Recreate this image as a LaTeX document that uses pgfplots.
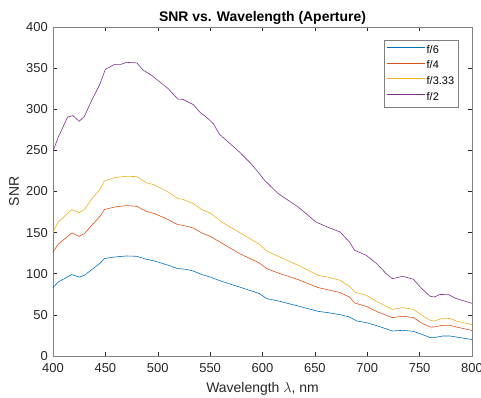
\documentclass[border=0pt]{standalone}
\usepackage{fontspec}
\setmainfont{Liberation Sans}
\usepackage{pgfplots}
\pgfplotsset{compat=1.18}
\definecolor{mblue}{rgb}{0,0.447,0.741}
\definecolor{mred}{rgb}{0.85,0.325,0.098}
\definecolor{myellow}{rgb}{0.929,0.694,0.125}
\definecolor{mpurple}{rgb}{0.494,0.184,0.556}
\definecolor{axgray}{rgb}{0.15,0.15,0.15}
\definecolor{framegray}{rgb}{0.5,0.5,0.5}
\begin{document}
\begin{tikzpicture}
\begin{axis}[
  at={(0,0)}, anchor=south west,
  scale only axis, width=419bp, height=329bp,
  xmin=400, xmax=800, ymin=0, ymax=400,
  xtick={400,450,...,800}, ytick={0,50,...,400},
  tick align=inside, major tick length=4bp,
  axis line style={framegray, line width=0.6bp},
  tick style={axgray, line width=0.5bp},
  ticklabel style={font=\fontsize{13}{15}\selectfont, text=axgray},
  /pgf/number format/assume math mode=true,
  /pgf/number format/1000 sep={},
  xticklabel style={yshift=-3.5bp},
  yticklabel style={xshift=-1.7bp},
  title={SNR vs. Wavelength (Aperture)},
  title style={font=\fontsize{14}{16}\selectfont\bfseries, at={(axis description cs:0.5,1)}, anchor=base, yshift=-0.3bp},
  xlabel={Wavelength $\lambda$, nm},
  ylabel={SNR},
  xlabel style={font=\fontsize{14}{16}\selectfont, text=axgray, at={(axis description cs:0.5,0)}, anchor=base, yshift=-36bp},
  ylabel style={font=\fontsize{14}{16}\selectfont, text=axgray, at={(axis description cs:-0.093,0.5)}, anchor=center},
  legend style={at={(axis description cs:1,1)}, anchor=north east, xshift=-13.7bp, yshift=-13.5bp,
    font=\fontsize{11}{13}\selectfont, draw=framegray, inner xsep=2.5bp, inner ysep=2bp,
    row sep=0bp, nodes={inner xsep=1.5bp, inner ysep=2.6bp, text height=8bp, text depth=2.5bp}},
  legend cell align=left,
  legend image code/.code={\draw[#1, line width=0.9bp] (0bp,3bp) -- (38bp,3bp);},
]
\addplot[color=mblue, line width=0.6bp] coordinates {
(400,83.2) (405,90) (418,99) (425,96) (430,98.1) (437,105) (445,113) (449,118.4)
(459,120.4) (470,121.6) (480,121.2) (489,117.6) (497,115.5) (510,110.3) (519,106.3)
(527,105.4) (534,103.3) (542,99) (550,96) (561,90.8) (578,83.9) (597,75.9) (604,69.8)
(615,66.9) (634,60.8) (653,54.3) (662,52.8) (674,50.3) (683,47.4) (690,42.6) (699,40.6)
(710,36.5) (724,30.4) (734,31.2) (744,30) (752,26.4) (760,22.4) (764,22.4) (772,24.3)
(779,24.3) (785,23.1) (800,20)
};
\addlegendentry{f/6}
\addplot[color=mred, line width=0.6bp] coordinates {
(400,126.4) (405,136) (418,149.6) (425,145.5) (430,148.8) (437,159) (445,170) (449,178)
(459,181.2) (470,182.9) (480,182) (489,175.9) (497,173.1) (510,165.8) (519,159.8)
(524,158.9) (534,155.6) (542,149.6) (550,145.5) (561,137.4) (578,124.5) (597,113.1)
(604,106.3) (615,100.9) (634,92.9) (653,83.2) (662,80.7) (674,77.1) (683,71.7) (688,64.4)
(699,60.4) (710,53.5) (724,46.7) (734,48.3) (744,46.7) (752,40.1) (760,35.3) (764,35.3)
(772,37.3) (779,37.3) (785,35.3) (800,31)
};
\addlegendentry{f/4}
\addplot[color=myellow, line width=0.6bp] coordinates {
(400,151) (405,163) (418,178) (425,174.3) (430,178) (437,191) (445,203) (449,212.8)
(459,216.9) (470,218.5) (480,218.1) (489,210.8) (496,208.4) (510,199.4) (519,191.4)
(524,190.5) (534,185.3) (542,178) (550,173.9) (561,163) (578,150.2) (597,135.8)
(604,127.7) (615,121.2) (634,110.3) (653,98.1) (662,96) (674,92) (683,84.7) (688,77.8)
(699,73.8) (710,65.7) (724,56.8) (734,58.8) (744,56.8) (752,49.5) (760,43.4) (764,42.6)
(772,45.8) (779,45.6) (785,42.6) (800,38)
};
\addlegendentry{f/3.33}
\addplot[color=mpurple, line width=0.6bp] coordinates {
(400,249) (405,266) (414,290.6) (419,292.3) (425,285.3) (430,291.4) (437,310.9) (445,331.2)
(450,348.6) (459,354.6) (465,354.6) (470,357) (480,356.4) (486,347.6) (494,341.3) (510,325)
(519,312.5) (524,312) (534,305.6) (540,296.7) (548,288.6) (553,282.5) (559,269.5)
(578,248) (589,233.9) (597,221.7) (602,213.6) (615,197.4) (634,181.2) (651,162.9)
(662,156.8) (674,150.8) (683,138.6) (688,128.5) (699,122.4) (709,112.3) (718,100.2)
(724,94.1) (734,96.9) (744,93.3) (752,81.9) (760,72.6) (764,71.7) (769,74.7) (777,75)
(785,69.8) (800,64)
};
\addlegendentry{f/2}
\end{axis}
\pgfresetboundingbox
\path (-53bp,-42bp) rectangle (428bp,356bp);
\end{tikzpicture}
\end{document}
